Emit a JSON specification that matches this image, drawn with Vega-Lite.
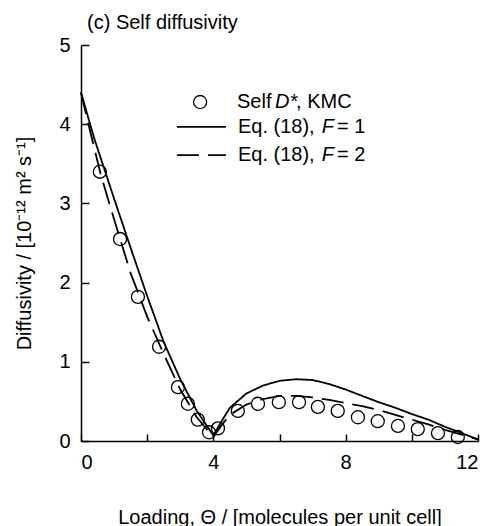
{
  "$schema": "https://vega.github.io/schema/vega-lite/v6.json",
  "autosize": "none",
  "width": 397,
  "height": 396,
  "padding": {"left": 81, "top": 45, "right": 23, "bottom": 85},
  "background": "white",
  "config": {
    "view": {"stroke": null},
    "font": "Liberation Sans",
    "axis": {
      "domainColor": "black", "domainWidth": 1.5, "ticks": true, "tickColor": "black", "tickWidth": 1.5, "tickOpacity": 1,
      "labelColor": "black", "titleColor": "black", "labelFont": "Liberation Sans", "titleFont": "Liberation Sans",
      "labelFontSize": 20, "titleFontSize": 20, "titleFontWeight": "normal", "grid": false
    }
  },
  "title": {"text": "(c) Self diffusivity", "anchor": "start", "frame": "group", "fontSize": 20, "fontWeight": "normal", "font": "Liberation Sans", "color": "black", "offset": 2, "dx": 6},
  "layer": [
    {
      "data": {"values": [
        {"s": "F1", "x": 0, "y": 4.4}, {"s": "F1", "x": 0.4, "y": 3.82}, {"s": "F1", "x": 1.0, "y": 3.06}, {"s": "F1", "x": 1.5, "y": 2.44},
        {"s": "F1", "x": 2.0, "y": 1.83}, {"s": "F1", "x": 2.5, "y": 1.25}, {"s": "F1", "x": 3.0, "y": 0.78}, {"s": "F1", "x": 3.5, "y": 0.38},
        {"s": "F1", "x": 4.0, "y": 0.07}, {"s": "F1", "x": 4.25, "y": 0.25}, {"s": "F1", "x": 4.5, "y": 0.42}, {"s": "F1", "x": 5.0, "y": 0.6},
        {"s": "F1", "x": 5.5, "y": 0.7}, {"s": "F1", "x": 6.0, "y": 0.76}, {"s": "F1", "x": 6.5, "y": 0.78}, {"s": "F1", "x": 7.0, "y": 0.77},
        {"s": "F1", "x": 7.5, "y": 0.72}, {"s": "F1", "x": 8.0, "y": 0.65}, {"s": "F1", "x": 8.5, "y": 0.57}, {"s": "F1", "x": 9.0, "y": 0.49},
        {"s": "F1", "x": 9.5, "y": 0.42}, {"s": "F1", "x": 10.0, "y": 0.34}, {"s": "F1", "x": 10.5, "y": 0.27}, {"s": "F1", "x": 11.0, "y": 0.18},
        {"s": "F1", "x": 11.5, "y": 0.1}, {"s": "F1", "x": 12.0, "y": 0.02},
        {"s": "F2", "x": 0, "y": 4.4}, {"s": "F2", "x": 0.3, "y": 3.87}, {"s": "F2", "x": 0.6, "y": 3.36}, {"s": "F2", "x": 1.0, "y": 2.8},
        {"s": "F2", "x": 1.5, "y": 2.12}, {"s": "F2", "x": 2.0, "y": 1.57}, {"s": "F2", "x": 2.5, "y": 1.1}, {"s": "F2", "x": 3.0, "y": 0.65},
        {"s": "F2", "x": 3.5, "y": 0.3}, {"s": "F2", "x": 4.0, "y": 0.05}, {"s": "F2", "x": 4.25, "y": 0.2}, {"s": "F2", "x": 4.5, "y": 0.33},
        {"s": "F2", "x": 5.0, "y": 0.46}, {"s": "F2", "x": 5.5, "y": 0.53}, {"s": "F2", "x": 6.0, "y": 0.57}, {"s": "F2", "x": 6.5, "y": 0.57},
        {"s": "F2", "x": 7.0, "y": 0.55}, {"s": "F2", "x": 7.5, "y": 0.52}, {"s": "F2", "x": 8.0, "y": 0.48}, {"s": "F2", "x": 8.5, "y": 0.44},
        {"s": "F2", "x": 9.0, "y": 0.39}, {"s": "F2", "x": 9.5, "y": 0.33}, {"s": "F2", "x": 10.0, "y": 0.27}, {"s": "F2", "x": 10.5, "y": 0.21},
        {"s": "F2", "x": 11.0, "y": 0.14}, {"s": "F2", "x": 11.5, "y": 0.08}, {"s": "F2", "x": 12.0, "y": 0.02}
      ]},
      "mark": {"type": "line", "color": "black", "strokeWidth": 1.8},
      "encoding": {
        "x": {"field": "x", "type": "quantitative", "scale": {"domain": [0, 12], "nice": false},
              "axis": {"values": [0,1,2,3,4,5,6,7,8,9,10,11,12], "format": "d", "labelExpr": "datum.value % 4 === 0 ? datum.label : ''", "tickSize": -7, "labelPadding": 18, "title": "Loading, Θ / [molecules per unit cell]", "titlePadding": 35}},
        "y": {"field": "y", "type": "quantitative", "scale": {"domain": [0, 5], "nice": false},
              "axis": {"values": [0,0.5,1,1.5,2,2.5,3,3.5,4,4.5,5], "format": "d", "labelExpr": "datum.value % 1 === 0 ? datum.label : ''", "tickSize": -8, "labelPadding": 19, "title": "Diffusivity / [10⁻¹² m² s⁻¹]", "titlePadding": 24}},
        "detail": {"field": "s"},
        "strokeDash": {"field": "s", "type": "nominal", "scale": {"domain": ["F1", "F2"], "range": [[1, 0], [22, 9]]}, "legend": null}
      }
    },
    {
      "data": {"values": [
        {"x": 0.57, "y": 3.4}, {"x": 1.18, "y": 2.55}, {"x": 1.72, "y": 1.82}, {"x": 2.36, "y": 1.19}, {"x": 2.93, "y": 0.68},
        {"x": 3.23, "y": 0.47}, {"x": 3.53, "y": 0.27}, {"x": 3.87, "y": 0.11}, {"x": 4.14, "y": 0.16}, {"x": 4.74, "y": 0.38},
        {"x": 5.35, "y": 0.47}, {"x": 5.98, "y": 0.49}, {"x": 6.59, "y": 0.49}, {"x": 7.16, "y": 0.43}, {"x": 7.76, "y": 0.38},
        {"x": 8.37, "y": 0.3}, {"x": 8.97, "y": 0.25}, {"x": 9.58, "y": 0.19}, {"x": 10.18, "y": 0.15}, {"x": 10.79, "y": 0.1},
        {"x": 11.39, "y": 0.05}
      ]},
      "mark": {"type": "point", "shape": "circle", "filled": false, "stroke": "black", "strokeWidth": 1.3, "size": 170, "opacity": 1},
      "encoding": {"x": {"field": "x", "type": "quantitative"}, "y": {"field": "y", "type": "quantitative"}}
    },
    {
      "data": {"values": [{"x": 3.6, "y": 4.28}]},
      "mark": {"type": "point", "shape": "circle", "filled": false, "stroke": "black", "strokeWidth": 1.3, "size": 170, "opacity": 1},
      "encoding": {"x": {"field": "x", "type": "quantitative"}, "y": {"field": "y", "type": "quantitative"}}
    },
    {
      "data": {"values": [{"s": "F1", "x": 2.9, "x2": 4.38, "y": 3.965}, {"s": "F2", "x": 2.9, "x2": 4.38, "y": 3.61}]},
      "mark": {"type": "rule", "color": "black", "strokeWidth": 1.8},
      "encoding": {
        "x": {"field": "x", "type": "quantitative"}, "x2": {"field": "x2"}, "y": {"field": "y", "type": "quantitative"},
        "strokeDash": {"field": "s", "type": "nominal", "legend": null}
      }
    },
    {
      "data": {"values": [
        {"x": 4.715, "y": 4.28, "t": "Self"}, {"x": 6.5, "y": 4.28, "t": ", KMC"},
        {"x": 4.745, "y": 3.965, "t": "Eq. (18),"}, {"x": 7.74, "y": 3.965, "t": "= 1"},
        {"x": 4.745, "y": 3.61, "t": "Eq. (18),"}, {"x": 7.74, "y": 3.61, "t": "= 2"}
      ]},
      "mark": {"type": "text", "align": "left", "baseline": "middle", "fontSize": 20, "font": "Liberation Sans", "color": "black"},
      "encoding": {"x": {"field": "x", "type": "quantitative"}, "y": {"field": "y", "type": "quantitative"}, "text": {"field": "t"}}
    },
    {
      "data": {"values": [
        {"x": 5.864, "y": 4.28, "t": "D*"}, {"x": 7.28, "y": 3.965, "t": "F"}, {"x": 7.28, "y": 3.61, "t": "F"}
      ]},
      "mark": {"type": "text", "align": "left", "baseline": "middle", "fontSize": 20, "font": "Liberation Sans", "fontStyle": "italic", "color": "black"},
      "encoding": {"x": {"field": "x", "type": "quantitative"}, "y": {"field": "y", "type": "quantitative"}, "text": {"field": "t"}}
    }
  ]
}
